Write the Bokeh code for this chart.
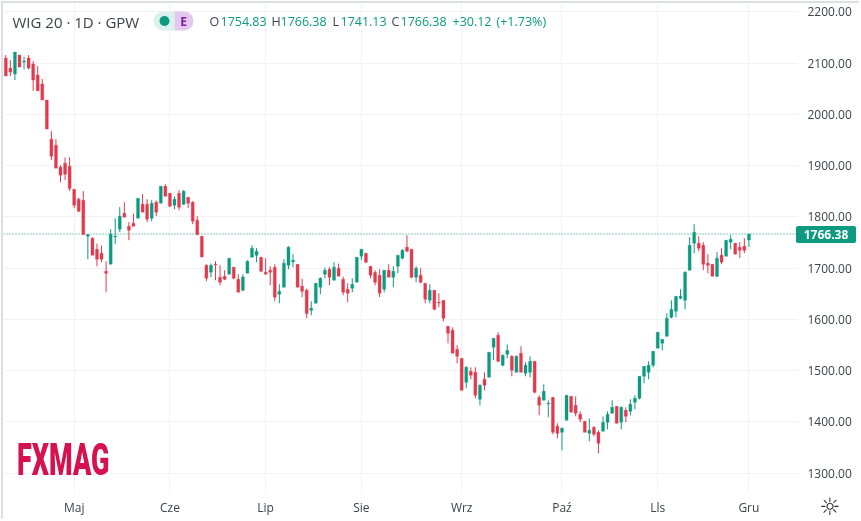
from bokeh.embed import file_html
from bokeh.resources import INLINE
from bokeh.layouts import column
from bokeh.plotting import figure
from bokeh.models import (BoxAnnotation, ColumnDataSource, Div, FixedTicker, Grid, Label, LinearAxis,
                          NumeralTickFormatter, Range1d)

opens = [2109.7,2090.2,2078.5,2115.6,2101.9,2109.7,2098.0,2076.5,2059.0,2027.7,1951.5,1939.8,1896.9,1904.7,1898.8,1853.9,1834.4,1832.4,1762.0,1758.2,
1736.7,1728.9,1693.7,1707.4,1760.8,1775.8,1807.0,1781.6,1787.5,1797.2,1824.6,1824.6,1797.2,1828.5,1826.5,1859.7,1846.0,1822.6,1846.0,1824.6,
1838.3,1828.5,1793.3,1762.0,1705.5,1691.8,1707.4,1682.0,1684.0,1687.9,1701.5,1678.1,1656.6,1689.8,1721.1,1725.0,1721.1,1691.8,1695.7,1701.5,
1648.8,1662.5,1705.5,1712.0,1707.4,1664.5,1656.6,1617.6,1631.3,1662.5,1687.9,1697.6,1676.2,1699.6,1678.1,1658.6,1660.5,1672.3,1723.0,1728.9,
1703.5,1691.8,1685.9,1658.6,1695.7,1682.0,1703.5,1719.1,1740.6,1736.7,1682.0,1685.9,1670.3,1637.1,1656.6,1633.2,1637.1,1586.4,1578.6,1541.5,
1523.9,1477.0,1498.5,1496.5,1443.8,1482.9,1486.8,1545.4,1568.8,1510.2,1531.7,1527.8,1496.5,1533.7,1494.6,1496.5,1518.0,1447.7,1441.9,1434.7,
1447.7,1391.1,1379.4,1402.8,1449.7,1432.1,1414.5,1400.8,1377.4,1389.1,1379.4,1381.3,1398.9,1416.5,1430.1,1398.9,1422.3,1420.4,1437.9,1445.7,
1488.7,1496.5,1510.2,1543.4,1553.2,1566.8,1603.9,1615.6,1641.0,1637.1,1695.7,1748.5,1748.5,1744.5,1709.4,1707.4,1684.0,1725.0,1723.0,1750.4,
1748.5,1740.6,1742.6,1754.83]
highs = [2115.6,2105.8,2121.4,2115.6,2112.3,2115.6,2103.9,2094.1,2068.7,2027.7,1967.2,1951.5,1900.8,1915.7,1916.4,1853.9,1837.0,1850.0,1765.3,1760.1,
1747.8,1743.9,1713.3,1775.8,1797.2,1818.7,1828.5,1789.4,1806.4,1836.3,1844.1,1834.4,1832.4,1831.8,1859.7,1863.6,1846.0,1840.2,1851.9,1851.9,
1838.3,1830.4,1801.2,1762.0,1707.4,1708.7,1713.3,1705.5,1695.7,1719.1,1702.2,1687.9,1687.9,1715.2,1744.5,1738.7,1721.1,1719.1,1703.5,1707.4,
1668.4,1717.2,1742.6,1727.0,1707.4,1679.4,1659.9,1635.2,1670.3,1682.0,1700.9,1701.6,1711.3,1708.7,1683.3,1670.3,1680.0,1721.1,1736.7,1728.9,
1703.5,1695.7,1697.6,1695.7,1707.4,1703.5,1725.0,1736.7,1764.0,1736.7,1703.5,1699.6,1670.3,1668.4,1656.6,1650.8,1637.1,1586.4,1584.4,1549.3,
1523.9,1508.3,1506.3,1506.3,1473.1,1496.5,1535.6,1563.0,1574.7,1531.7,1551.2,1529.7,1529.7,1547.3,1516.1,1527.8,1518.0,1451.6,1473.1,1441.9,
1447.7,1396.9,1389.1,1451.6,1449.7,1449.7,1420.4,1400.8,1406.7,1391.1,1383.3,1410.6,1420.4,1441.9,1430.1,1430.1,1428.2,1443.8,1451.6,1488.7,
1508.2,1518.0,1537.5,1574.6,1560.9,1611.7,1637.1,1644.9,1658.6,1693.8,1760.2,1785.6,1762.1,1750.4,1727.0,1707.4,1730.9,1738.7,1754.3,1764.0,
1748.5,1750.4,1758.2,1766.38]
lows = [2074.6,2074.6,2066.8,2092.1,2087.6,2087.6,2045.9,2045.9,2027.7,1971.1,1910.5,1894.9,1867.6,1871.5,1850.0,1816.8,1809.0,1765.3,1717.2,1725.0,
1703.5,1711.3,1652.7,1707.4,1746.5,1769.9,1799.2,1754.3,1781.6,1797.2,1809.0,1789.4,1791.4,1801.2,1826.5,1840.2,1818.7,1814.8,1812.9,1822.6,
1816.8,1785.5,1764.0,1721.1,1674.2,1682.0,1676.2,1666.4,1676.2,1687.9,1678.1,1652.7,1654.7,1689.8,1721.1,1711.3,1691.8,1687.9,1666.4,1635.2,
1631.3,1662.5,1697.6,1701.6,1662.5,1643.0,1602.0,1607.8,1631.3,1648.8,1680.0,1666.4,1676.2,1684.0,1646.9,1633.2,1652.7,1672.3,1715.2,1709.4,
1680.0,1666.4,1643.0,1652.7,1682.0,1662.5,1689.8,1717.2,1730.9,1680.0,1672.3,1670.3,1631.3,1631.3,1617.6,1623.4,1596.1,1553.2,1533.7,1514.1,
1461.4,1465.3,1482.9,1445.8,1432.1,1461.4,1486.8,1520.0,1516.1,1508.3,1523.9,1488.7,1496.5,1496.5,1488.7,1486.8,1455.5,1412.6,1441.9,1408.7,
1375.5,1367.6,1344.2,1402.8,1418.4,1410.6,1398.9,1379.4,1361.8,1371.5,1338.4,1381.3,1385.2,1416.5,1396.9,1385.2,1398.9,1412.5,1424.2,1443.8,
1475.0,1482.8,1506.3,1543.4,1539.5,1566.8,1602.0,1603.9,1639.1,1619.5,1695.7,1728.9,1732.8,1695.7,1689.9,1684.0,1682.0,1707.4,1723.0,1736.7,
1727.0,1719.2,1728.9,1741.13]
closes = [2074.6,2082.4,2121.4,2092.1,2103.9,2090.2,2066.8,2045.9,2027.7,1971.1,1918.3,1894.9,1881.2,1883.2,1855.2,1822.6,1810.9,1765.3,1765.3,1725.0,
1717.2,1717.2,1689.8,1766.0,1762.0,1801.2,1799.2,1773.8,1781.6,1836.3,1809.0,1795.3,1826.5,1809.0,1859.7,1840.2,1820.7,1834.4,1818.7,1850.0,
1826.5,1791.4,1765.3,1721.7,1680.0,1705.5,1706.1,1672.3,1678.1,1719.1,1680.0,1652.7,1682.7,1713.3,1738.7,1732.8,1693.7,1687.9,1691.8,1643.0,
1654.7,1709.4,1740.6,1715.2,1662.5,1654.7,1611.1,1621.5,1670.3,1680.0,1695.7,1682.0,1701.6,1684.0,1652.7,1650.8,1668.4,1721.1,1736.7,1711.3,
1685.9,1672.3,1650.8,1695.7,1682.0,1693.7,1725.0,1734.8,1732.8,1682.0,1699.6,1672.3,1639.1,1656.6,1619.5,1631.9,1602.0,1572.7,1533.7,1527.8,
1461.4,1506.3,1490.7,1451.6,1471.2,1471.2,1535.6,1563.0,1518.0,1529.7,1539.5,1500.4,1527.8,1496.5,1510.2,1518.0,1457.5,1432.1,1459.4,1436.0,
1379.4,1377.4,1387.2,1451.6,1418.4,1416.5,1404.7,1379.4,1383.3,1375.5,1357.9,1398.9,1414.5,1428.2,1396.9,1428.2,1410.6,1434.0,1445.7,1488.7,
1508.2,1510.2,1537.5,1574.6,1560.9,1602.0,1619.5,1644.9,1644.9,1691.8,1744.5,1769.9,1738.7,1707.4,1705.5,1684.0,1719.2,1711.3,1754.3,1756.3,
1727.0,1734.8,1734.8,1766.38]

month_index = [15, 36, 57, 78, 100, 122, 143, 163]
month_labels = ["Maj", "Cze", "Lip", "Sie", "Wrz", "Paź", "Lls", "Gru"]
price_ticks = [1300, 1400, 1500, 1600, 1700, 1800, 1900, 2000, 2100, 2200]
last_close = closes[-1]

GREEN = "#0c9a80"
RED = "#e03a4e"
GRID = "#f1f2f6"
TEXT = "#3f424d"
FONT = "Open Sans"
X0, Y0 = 3, 492   # frame's left and bottom, in window pixels

idx = list(range(len(closes)))
colors = [GREEN if c >= o else RED for o, c in zip(opens, closes)]
src = ColumnDataSource(dict(x=idx, o=opens, h=highs, l=lows, c=closes, col=colors,
                            top=[max(a, b) for a, b in zip(opens, closes)],
                            bot=[min(a, b) for a, b in zip(opens, closes)]))

p = figure(width=858, height=518, output_backend="svg", toolbar_location=None,
           x_range=Range1d(-0.504, 173.88), y_range=Range1d(1262.0, 2216.2),
           x_axis_location=None, y_axis_location=None,
           min_border_left=0, min_border_top=0, min_border_right=63, min_border_bottom=29,
           background_fill_color="white", border_fill_color="white", outline_line_color=None)
p.styles = {"position": "fixed", "left": "1px", "top": "1px",
            "border-left": "2px solid #dedfe3", "border-top": "2px solid #dedfe3"}

xa = LinearAxis(ticker=FixedTicker(ticks=month_index),
                major_label_overrides={i: t for i, t in zip(month_index, month_labels)},
                major_tick_line_color=None, minor_tick_line_color=None, axis_line_color=None,
                major_tick_out=0, major_tick_in=0, minor_tick_out=0, minor_tick_in=0,
                major_label_text_font=FONT, major_label_text_font_size="12px",
                major_label_text_color=TEXT, major_label_standoff=6)
ya = LinearAxis(ticker=FixedTicker(ticks=price_ticks), formatter=NumeralTickFormatter(format="0.00"),
                major_tick_line_color=None, minor_tick_line_color=None, axis_line_color=None,
                major_tick_out=0, major_tick_in=0, minor_tick_out=0, minor_tick_in=0,
                major_label_text_font=FONT, major_label_text_font_size="12px",
                major_label_text_color=TEXT, major_label_standoff=9)
p.add_layout(xa, "below")
p.add_layout(ya, "right")

p.xgrid.visible = False
p.ygrid.visible = False
p.add_layout(Grid(dimension=0, ticker=xa.ticker, grid_line_color=GRID, grid_line_width=1))
p.add_layout(Grid(dimension=1, ticker=ya.ticker, grid_line_color=GRID, grid_line_width=1))

p.segment(x0=[p.x_range.start], y0=[last_close], x1=[p.x_range.end], y1=[last_close],
          line_color=GREEN, line_width=1, line_dash="1 2")

p.segment("x", "h", "x", "l", source=src, line_color="col", line_width=1)
p.vbar("x", width=0.66, top="top", bottom="bot", source=src, fill_color="col", line_color="col", line_width=0.3)

def box(l, r, t, b, col, radius=0):
    p.add_layout(BoxAnnotation(left=l - X0, right=r - X0, top=Y0 - t, bottom=Y0 - b,
                               left_units="screen", right_units="screen",
                               top_units="screen", bottom_units="screen", fill_color=col, fill_alpha=1,
                               line_color=None, border_radius=radius, level="overlay"))

def text(x, y, s, col=TEXT, size="13px", font=FONT, style="normal", align="left"):
    p.add_layout(Label(x=x - X0, y=Y0 - y, x_units="screen", y_units="screen", text=s, text_color=col,
                       text_font_size=size, text_font=font, text_font_style=style,
                       text_align=align, text_baseline="middle", level="overlay"))

text(12, 21, "WIG 20 · 1D · GPW", size="15px")
box(153, 174, 11, 30, "#dcf1ed", (10, 0, 0, 10))
box(174, 193, 11, 30, "#e3c8ef", (0, 10, 10, 0))
box(159, 169, 15.5, 25.5, "#0a9a80", 5)
text(183, 21, "E", col="#7b1fa2", size="12px", style="bold", align="center")

for x, s, c in [(209, "O", TEXT), (220, "1754.83", GREEN), (271, "H", TEXT), (280, "1766.38", GREEN),
                (332, "L", TEXT), (340, "1741.13", GREEN), (391, "C", TEXT), (400, "1766.38", GREEN),
                (452, "+30.12", GREEN), (496, "(+1.73%)", GREEN)]:
    text(x, 21, s, col=c, size="12.5px")

logo = Div(text="FXMAG", width=160, height=46, margin=0,
           styles={"position": "fixed", "left": "17px", "top": "437px", "color": "#d5124f",
                   "font-family": "Roboto", "font-weight": "900", "font-size": "45px", "line-height": "46px",
                   "transform": "scaleX(0.6)", "transform-origin": "left center"})
tag = Div(text="1766.38", width=60, height=17, margin=0,
          styles={"position": "fixed", "left": "796px", "top": "226px", "background-color": GREEN,
                  "border-radius": "2px", "color": "white", "font-family": FONT, "font-weight": "700",
                  "font-size": "12px", "line-height": "17px", "text-align": "center"})
sun = Div(text="☼", width=24, height=24, margin=0,
          styles={"position": "fixed", "left": "818px", "top": "495px", "color": "#333333",
                  "font-family": "DejaVu Sans", "font-size": "24px", "line-height": "24px", "text-align": "center"})

open("out.html", "w").write(file_html(column(p, logo, tag, sun), INLINE))
